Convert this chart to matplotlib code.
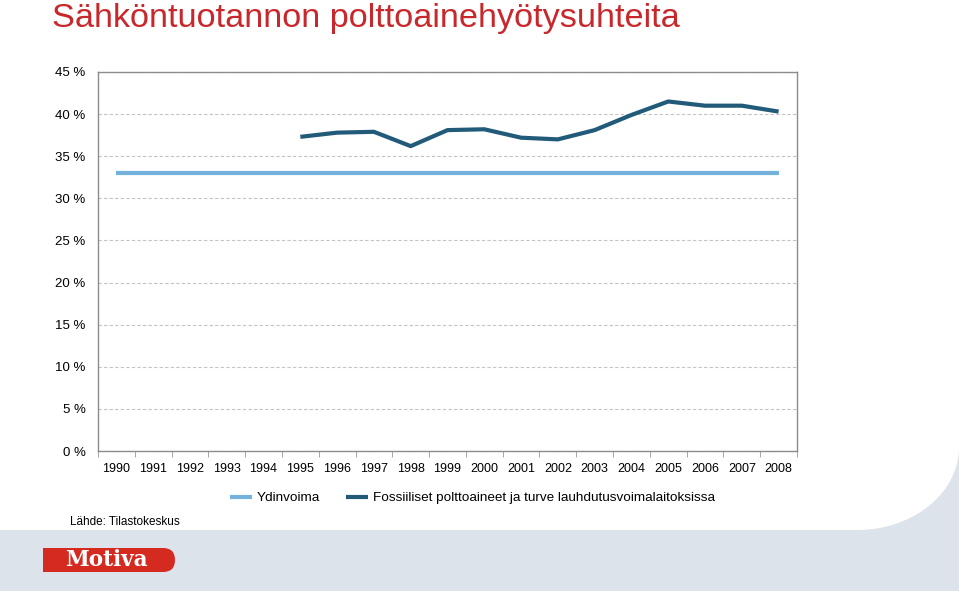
import matplotlib.pyplot as plt
import numpy as np
from matplotlib.patches import Rectangle, Polygon, FancyBboxPatch

years = [str(y) for y in range(1990, 2009)]
ydinvoima = [33.0] * 19
fossiili = [None] * 5 + [37.3, 37.8, 37.9, 36.2, 38.1, 38.2, 37.2, 37.0, 38.1,
                         39.9, 41.5, 41.0, 41.0, 40.3]
yticks = [0, 5, 10, 15, 20, 25, 30, 35, 40, 45]

plt.rcParams['font.family'] = ['Liberation Sans', 'DejaVu Sans']

fig = plt.figure(figsize=(9.59, 5.91), dpi=100)

# tausta (harmaa alakaista ja pyöristetty kulma), pikselikoordinaatit
bg = fig.add_axes([0, 0, 1, 1], zorder=0)
bg.set_xlim(0, 959)
bg.set_ylim(591, 0)
bg.axis('off')
grey = '#dde3ea'
bg.add_patch(Rectangle((0, 530), 959, 61, color=grey, lw=0))
t = np.linspace(0, np.pi / 2, 60)
cx, cy = 857, 447
curve = np.column_stack([cx + 102 * np.cos(t), cy + 83 * np.sin(t)])
pts = np.vstack([curve, [[959, 530]]])
bg.add_patch(Polygon(pts, closed=True, color=grey, lw=0))

# Motiva-logo
bg.add_patch(FancyBboxPatch((43, 548), 132, 24, boxstyle='round,pad=0,rounding_size=12',
                            color='#d42a1f', lw=0))
bg.add_patch(Rectangle((43, 548), 40, 24, color='#d42a1f', lw=0))
bg.text(106, 560, 'Motiva', color='white', fontsize=15.5, fontweight='bold',
        family=['DejaVu Serif'], ha='center', va='center')

fig.text(52 / 959, 1 - 19 / 591, 'Sähköntuotannon polttoainehyötysuhteita',
         color='#c8282b', fontsize=24.7, ha='left', va='center')

ax = fig.add_axes([98 / 959, 140 / 591, 699 / 959, 379 / 591], zorder=1)
ax.patch.set_alpha(0)
x = np.arange(len(years))
fos = np.array([np.nan if v is None else v for v in fossiili], dtype=float)
l1, = ax.plot(x, ydinvoima, color='#72b2dc', lw=3, solid_capstyle='butt')
l2, = ax.plot(x, fos, color='#225b79', lw=3, solid_capstyle='butt')

ax.set_xlim(-0.5, len(years) - 0.5)
ax.set_ylim(0, 45)
ax.set_yticks(yticks)
ax.set_yticklabels([f'{v} %' for v in yticks], fontsize=9.5)
ax.set_xticks(x)
ax.set_xticklabels(years, fontsize=9)
ax.set_xticks(np.arange(-0.5, len(years)), minor=True)
ax.tick_params(axis='x', which='major', length=0, pad=9)
ax.tick_params(axis='x', which='minor', length=4, color='#999999', direction='out')
ax.tick_params(axis='y', length=0, pad=9)
for s in ax.spines.values():
    s.set_color('#8c8c8c')
    s.set_linewidth(1)
ax.yaxis.grid(True, color='#c4c4c4', lw=0.8, ls=(0, (3, 2)))
ax.set_axisbelow(True)

fig.legend([l1, l2], ['Ydinvoima', 'Fossiiliset polttoaineet ja turve lauhdutusvoimalaitoksissa'],
           loc='center left', bbox_to_anchor=(230 / 959, 1 - 498 / 591), ncol=2,
           frameon=False, fontsize=9.7, handlelength=1.6, handletextpad=0.35,
           columnspacing=2.0, borderaxespad=0, borderpad=0)

fig.text(70 / 959, 1 - 522 / 591, 'Lähde: Tilastokeskus', fontsize=8.5, va='center')

fig.savefig('out.png', dpi=100)
